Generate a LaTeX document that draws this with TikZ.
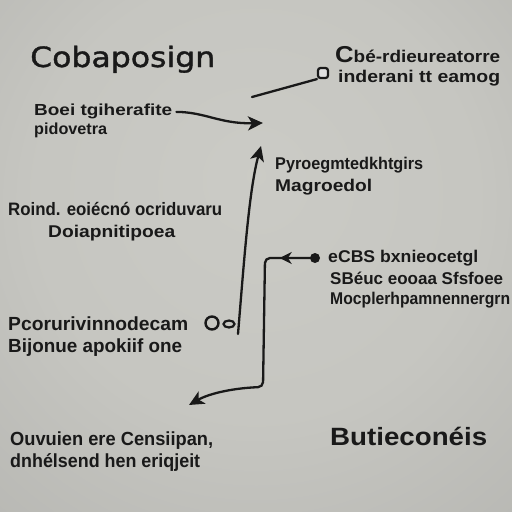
\documentclass[tikz,border=0pt]{standalone}
\usepackage{fontspec}
\setmainfont{Liberation Sans}
\newfontfamily\titlefont{DejaVu Sans}[FakeBold=1.2]
\usepackage{graphicx}
\usetikzlibrary{arrows.meta,decorations.markings,shapes.geometric}
\definecolor{ink}{RGB}{25,25,25}
\pgfdeclareradialshading{vign}{\pgfpoint{0bp}{8bp}}{rgb(0bp)=(0.795,0.795,0.775); rgb(22bp)=(0.775,0.775,0.755); rgb(50bp)=(0.69,0.69,0.675); rgb(72bp)=(0.58,0.57,0.56)}
\newcommand\fitw[3]{\resizebox{#1pt}{\height}{\fontsize{#2}{#2}\selectfont #3}}
\begin{document}
\begin{tikzpicture}[x=1pt,y=-1pt,
  txt/.style={anchor=base west,inner sep=0pt,text=ink},
  bold/.style={txt,font=\bfseries},
  conn/.style={draw=ink,line width=2.3pt,line cap=round},
  tip/.style={-{Stealth[length=15pt,width=14pt,inset=4pt]}}]
\shade[shading=vign] (0,0) rectangle (512,512);
\useasboundingbox (0,0) rectangle (512,512);

% texts
\node[txt,font=\titlefont] (title) at (30,67) {\fitw{185}{28}{Cobaposign}};
\node[bold] (b1) at (34,115) {\fitw{138}{16}{Boei tgiherafite}};
\node[bold] (b2) at (34,134) {\fitw{73}{16}{pidovetra}};
\node[bold] (tr1) at (335,62) {\fitw{165}{17}{{\fontsize{23}{23}\selectfont C}bé-rdieureatorre}};
\node[bold] (tr2) at (338,82) {\fitw{162}{17}{inderani tt eamog}};
\node[bold] (p1) at (275,169) {\fitw{148}{17}{Pyroegmtedkhtgirs}};
\node[bold] (p2) at (275,191) {\fitw{97}{17}{Magroedol}};
\node[bold] (r1) at (8,215) {\fitw{214}{18}{Roind. eoiécnó ocriduvaru}};
\node[bold] (r2) at (48,237) {\fitw{127}{17}{Doiapnitipoea}};
\node[bold] (c1) at (8,330) {\fitw{180}{19}{Pcorurivinnodecam}};
\node[bold] (c2) at (8,352) {\fitw{174}{19}{Bijonue apokiif one}};
\node[bold] (e1) at (328,262) {\fitw{150}{17}{eCBS bxnieocetgl}};
\node[bold] (e2) at (330,284) {\fitw{173}{17}{SBéuc eooaa Sfsfoee}};
\node[bold] (e3) at (330,304) {\fitw{180}{17}{Mocplerhpamnennergrn}};
\node[bold] (o1) at (10,445) {\fitw{203}{19}{Ouvuien ere Censiipan,}};
\node[bold] (o2) at (10,467) {\fitw{190}{19}{dnhélsend hen eriqjeit}};
\node[bold] (but) at (330,445) {\fitw{157}{25}{Butieconéis}};

% small marks
\node[draw=ink,line width=2.2pt,fill=white!75!gray,rounded corners=2.5pt,minimum size=10pt,inner sep=0pt] (sq) at (323,73) {};
\node[draw=ink,circle,line width=2.4pt,minimum size=13pt,inner sep=0pt] (bigO) at (212,323) {};
\node[draw=ink,ellipse,line width=2.2pt,minimum width=11pt,minimum height=7pt,inner sep=0pt] (smallo) at (229,324) {};
\node[fill=ink,circle,minimum size=10pt,inner sep=0pt] (dot) at (315,258) {};

% coordinates
\coordinate (a1t) at (263,123);
\coordinate (b0) at (252,97);
\coordinate (c0) at (238,334);
\coordinate (c1) at (261,146);
\coordinate (d1) at (265,258);
\coordinate (d2) at (263,387);
\coordinate (d3) at (189,405);

% connectors
\draw[conn,tip] ([xshift=4pt,yshift=-1pt]b1.east) .. controls (205,112) and (220,124) .. (a1t);
\draw[conn] (b0) -- (sq.south west);
\draw[conn,tip] (c0) .. controls (244,262) and (249,190) .. (c1);
\draw[conn,tip,rounded corners=5pt,postaction={decorate},
  decoration={markings,mark=at position 0.14 with {\arrow{Stealth[length=12pt,width=12pt]}}}]
  (dot.center) -- (d1) -- (d2) .. controls (235,388) and (210,393) .. (d3);
\end{tikzpicture}
\end{document}
